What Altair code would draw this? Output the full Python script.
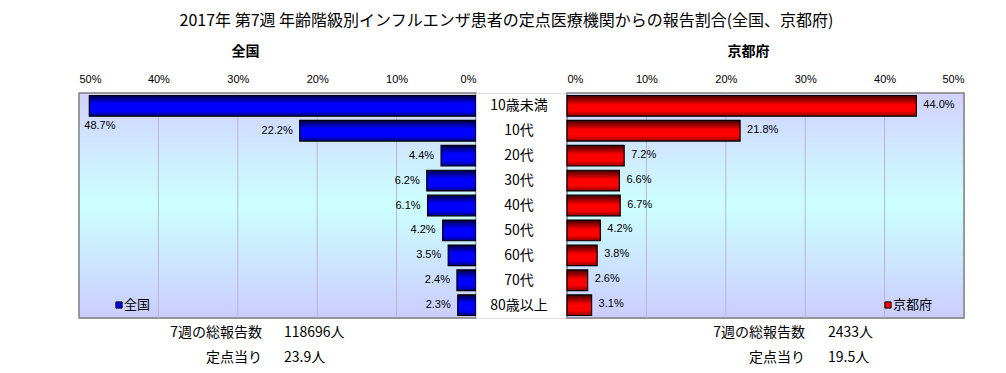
import altair as alt
import pandas as pd

categories = ["10歳未満", "10代", "20代", "30代", "40代", "50代", "60代", "70代", "80歳以上"]
national = [48.7, 22.2, 4.4, 6.2, 6.1, 4.2, 3.5, 2.4, 2.3]
kyoto = [44.0, 21.8, 7.2, 6.6, 6.7, 4.2, 3.8, 2.6, 3.1]
axis_ticks = [0, 10, 20, 30, 40, 50]
grid_ticks = [10, 20, 30, 40]
week = 7
national_total = 118696
national_per_site = 23.9
kyoto_total = 2433
kyoto_per_site = 19.5

W, H = 397, 225
MID_W = 91
JP = "Noto Sans CJK JP"
NUM = "Liberation Sans"

bg_grad = alt.Gradient(
    gradient="linear", x1=0, x2=0, y1=0, y2=1,
    stops=[alt.GradientStop(offset=0, color="#d2d2ff"),
           alt.GradientStop(offset=0.5, color="#ccffff"),
           alt.GradientStop(offset=1, color="#ccccff")])
blue_grad = alt.Gradient(
    gradient="linear", x1=0, x2=0, y1=0, y2=1,
    stops=[alt.GradientStop(offset=0, color="#000040"),
           alt.GradientStop(offset=0.4, color="#0000ff"),
           alt.GradientStop(offset=0.75, color="#0000ff"),
           alt.GradientStop(offset=1, color="#000080")])
red_grad = alt.Gradient(
    gradient="linear", x1=0, x2=0, y1=0, y2=1,
    stops=[alt.GradientStop(offset=0, color="#400000"),
           alt.GradientStop(offset=0.45, color="#ff0000"),
           alt.GradientStop(offset=0.75, color="#ff0000"),
           alt.GradientStop(offset=1, color="#900000")])

ysc = alt.Scale(domain=categories, paddingInner=0.17, paddingOuter=0.1)


def panel(values, name, reverse, bar_grad, legend_color, total, per_site,
          legend_x, text_label_x, text_value_x, title_dx):
    df = pd.DataFrame({"category": categories, "value": values})
    df["label"] = [f"{v:.1f}%" for v in values]
    xsc = alt.Scale(domain=[0, 50], reverse=reverse)
    one = pd.DataFrame({"name": [name],
                        "left": [f"{week}週の総報告数\n定点当り"],
                        "right": [f"{total}人\n{per_site}人"]})

    bg = alt.Chart(one).mark_rect(fill=bg_grad, stroke="#808080", strokeWidth=1.5).encode(
        x=alt.value(0), x2=alt.value(W), y=alt.value(0), y2=alt.value(H))
    grid = alt.Chart(pd.DataFrame({"t": grid_ticks})).mark_rule(
        color="#b8b8c8", strokeWidth=1).encode(x=alt.X("t:Q", scale=xsc))
    bars = alt.Chart(df).mark_bar(fill=bar_grad, stroke="black", strokeWidth=1.2).encode(
        x=alt.X("value:Q", scale=xsc,
                axis=alt.Axis(orient="top", values=axis_ticks, labelExpr="datum.value + '%'",
                              grid=False, ticks=False, domain=False, labelPadding=9,
                              labelFont=NUM, labelFontSize=11, labelColor="black",
                              title=None)),
        y=alt.Y("category:N", sort=categories, scale=ysc, axis=None))
    layers = [bg, grid, bars]
    if reverse:
        lab_small = alt.Chart(df).transform_filter("datum.value < 40").mark_text(
            align="right", baseline="middle", dx=-7, font=NUM, fontSize=11).encode(
            x=alt.X("value:Q", scale=xsc), y=alt.Y("category:N", sort=categories, scale=ysc),
            text="label:N")
        lab_big = alt.Chart(df).transform_filter("datum.value >= 40").mark_text(
            align="left", baseline="middle", dx=-5, dy=20, font=NUM, fontSize=11).encode(
            x=alt.X("value:Q", scale=xsc), y=alt.Y("category:N", sort=categories, scale=ysc),
            text="label:N")
        layers += [lab_small, lab_big]
    else:
        lab = alt.Chart(df).mark_text(
            align="left", baseline="middle", dx=7, dy=-1, font=NUM, fontSize=11).encode(
            x=alt.X("value:Q", scale=xsc), y=alt.Y("category:N", sort=categories, scale=ysc),
            text="label:N")
        layers += [lab]

    leg_sq = alt.Chart(one).mark_square(size=38, fill=legend_color, stroke="black",
                                        strokeWidth=1, opacity=1).encode(
        x=alt.value(legend_x), y=alt.value(H - 13))
    leg_tx = alt.Chart(one).mark_text(align="left", baseline="middle", font=JP,
                                      fontSize=13).encode(
        x=alt.value(legend_x + 5), y=alt.value(H - 13), text="name:N")
    foot_l = alt.Chart(one).mark_text(align="right", baseline="middle", font=JP, fontSize=14,
                                      lineBreak="\n", lineHeight=25).encode(
        x=alt.value(text_label_x), y=alt.value(H + 15), text="left:N")
    foot_r = alt.Chart(one).mark_text(align="left", baseline="middle", font=JP, fontSize=14,
                                      lineBreak="\n", lineHeight=25).encode(
        x=alt.value(text_value_x), y=alt.value(H + 15), text="right:N")
    layers += [leg_sq, leg_tx, foot_l, foot_r]
    return alt.layer(*layers).properties(
        width=W, height=H,
        title=alt.TitleParams(name, font=JP, fontSize=14, fontWeight="bold", anchor="middle",
                              dx=title_dx, offset=14, color="black"))


left = panel(national, "全国", True, blue_grad, "#0000ff", national_total, national_per_site,
             40, 183, 205, -32)
right = panel(kyoto, "京都府", False, red_grad, "#ff0000", kyoto_total, kyoto_per_site,
              321, 238, 261, -17)

mid_df = pd.DataFrame({"category": categories})
middle = alt.Chart(mid_df).mark_text(align="center", baseline="middle", font=JP,
                                     fontSize=14).encode(
    x=alt.value(43),
    y=alt.Y("category:N", sort=categories, scale=ysc, axis=None),
    text="category:N").properties(width=MID_W, height=H)

chart = alt.hconcat(left, middle, right, spacing=0, bounds="flush").properties(
    title=alt.TitleParams("2017年 第7週 年齢階級別インフルエンザ患者の定点医療機関からの報告割合(全国、京都府)",
                          font=JP, fontSize=16, fontWeight="normal", anchor="middle",
                          dx=-15, offset=16, color="black"),
    padding={"left": 69, "top": 4, "right": 5, "bottom": 5},
).configure_view(stroke="transparent").configure(background="white")

chart.save("out.html", embed_options={"renderer": "svg", "actions": False})
